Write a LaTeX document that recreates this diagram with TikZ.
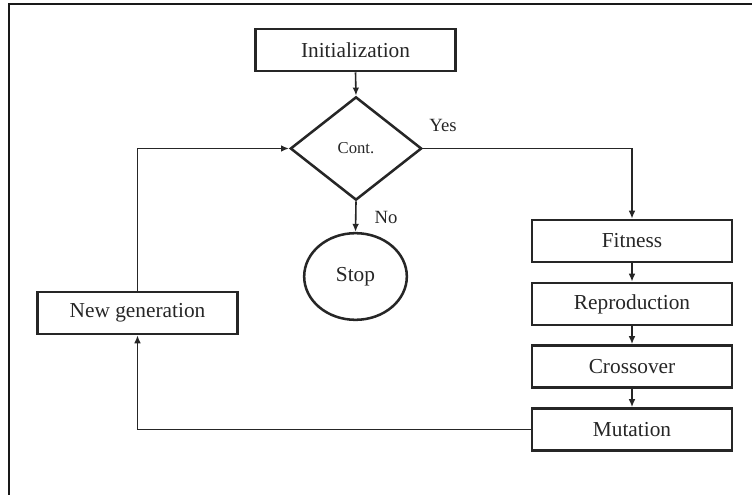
\documentclass[tikz,border=0pt]{standalone}
\usepackage{fontspec}
\setmainfont{Liberation Serif}
\usetikzlibrary{shapes.geometric,arrows.meta}
\begin{document}
\begin{tikzpicture}[x=0.75pt,y=-0.75pt,
  stepbox/.style={draw=black!85,line width=1.9pt,minimum width=150pt,minimum height=31.5pt,inner sep=0pt,font=\fontsize{16}{18}\selectfont,text=black!85},
  link/.style={draw=black!85,line width=1.2pt,-{Latex[length=6pt,width=5pt]}},
  lbl/.style={font=\fontsize{14}{16}\selectfont,text=black!85}]
  \useasboundingbox (0,0) rectangle (752,495);
  % outer frame (top and left edges)
  \draw[line width=1.5pt,black!90] (752,4) -- (9,4) -- (9,495);

  % nodes
  \node[stepbox] (init) at (355.5,50) {Initialization};
  \node[draw=black!85,line width=1.9pt,shape=diamond,inner sep=0pt,
        minimum width=98.5pt,minimum height=77.5pt,
        font=\fontsize{12.5}{14}\selectfont,text=black!85] (cont) at (356,148.5) {Cont.};
  \node[draw=black!85,line width=1.9pt,shape=ellipse,inner sep=0pt,
        minimum width=77pt,minimum height=65pt,
        font=\fontsize{16}{18}\selectfont,text=black!85] (stop) at (355.5,276.5) {Stop};
  \node[stepbox] (fit) at (632,241) {Fitness};
  \node[stepbox] (rep) at (632,304) {Reproduction};
  \node[stepbox] (cro) at (632,366.5) {Crossover};
  \node[stepbox] (mut) at (632,429.5) {Mutation};
  \node[stepbox] (newg) at (137.5,313) {New generation};

  % labels
  \node[lbl] (yes) at (443,125.5) {Yes};
  \node[lbl] (no) at (386,217) {No};

  % connectors
  \draw[link] (init.south) -- (cont.north);
  \draw[link] (cont.south) -- (stop.north);
  \draw[link] (cont.east) -| (fit.north);
  \draw[link] (fit.south) -- (rep.north);
  \draw[link] (rep.south) -- (cro.north);
  \draw[link] (cro.south) -- (mut.north);
  \draw[link] (mut.west) -| (newg.south);
  \draw[link] (newg.north) |- (cont.west);
\end{tikzpicture}
\end{document}
